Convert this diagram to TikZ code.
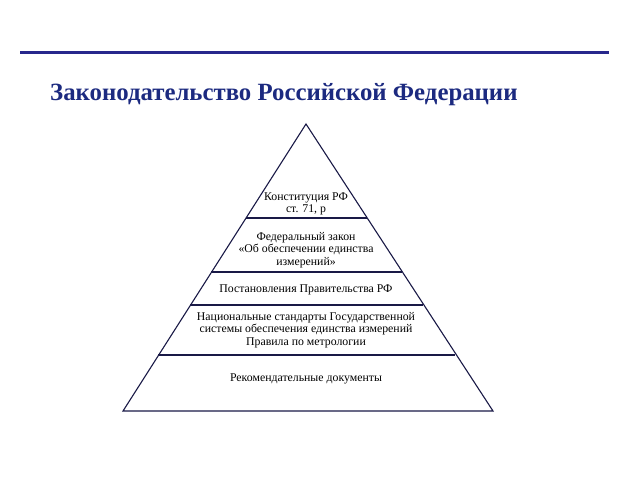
\documentclass[tikz,border=0pt]{standalone}
\usepackage{fontspec}
\setmainfont{Liberation Serif}
\definecolor{titleblue}{RGB}{28,42,128}
\definecolor{rulerblue}{RGB}{40,40,140}
\definecolor{pyrline}{RGB}{25,25,70}
\tikzset{
  lvltext/.style={font=\fontsize{11.8}{12.4}\selectfont, align=center, text=black, inner sep=0pt},
  pyr/.style={draw=pyrline, line width=1.1pt, line join=miter},
  tier/.style={draw=pyrline, line width=1.1pt},
}
\begin{document}
\begin{tikzpicture}[x=1pt,y=-1pt]
\useasboundingbox (0,0) rectangle (640,480);
% top rule
\draw[rulerblue, line width=3pt] (20,52) -- (609,52);
% title
\node[anchor=west, inner sep=0pt, text=titleblue, font=\fontsize{24.8}{26}\selectfont\bfseries] (title) at (50,95) {Законодательство Российской Федерации};
% pyramid
\coordinate (apex) at (306,124);
\coordinate (bl) at (123,411);
\coordinate (br) at (493,411);
\draw[pyr] (apex) -- (bl) -- (br) -- cycle;
% tiers
\coordinate (t1l) at (246,218); \coordinate (t1r) at (367,218);
\coordinate (t2l) at (211,272); \coordinate (t2r) at (402,272);
\coordinate (t3l) at (190,305); \coordinate (t3r) at (423,305);
\coordinate (t4l) at (158,355); \coordinate (t4r) at (455,355);
\draw[tier] (t1l) -- (t1r);
\draw[tier] (t2l) -- (t2r);
\draw[tier] (t3l) -- (t3r);
\draw[tier] (t4l) -- (t4r);
\coordinate (s1) at (180,355); \coordinate (s2) at (362,355);
\draw[pyrline, line width=2pt] (s1) -- (s2);
% labels
\node[lvltext] (l1) at (306,204) {Конституция РФ\\ст. 71, р};
\node[lvltext] (l2) at (306,250) {Федеральный закон\\«Об обеспечении единства\\измерений»};
\node[lvltext] (l3) at (306,290) {Постановления Правительства РФ};
\node[lvltext] (l4) at (306,330) {Национальные стандарты Государственной\\системы обеспечения единства измерений\\Правила по метрологии};
\node[lvltext] (l5) at (306,379) {Рекомендательные документы};
\end{tikzpicture}
\end{document}
